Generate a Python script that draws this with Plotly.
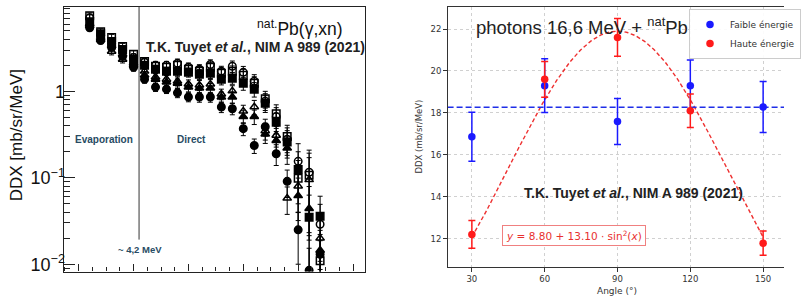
import numpy as np
import plotly.graph_objects as go

# ---------------- Left panel: natPb(γ,xn) DDX vs neutron energy ----------------
energy_mev = [2.4, 2.8, 3.2, 3.6, 4.0, 4.4, 4.8, 5.2, 5.6, 6.0, 6.4,
              6.8, 7.2, 7.6, 8.0, 8.4, 8.8, 9.2, 9.6, 10.0, 10.4, 10.8]
ddx_open_circle = [7.10, 4.41, 3.57, 2.90, 2.47, 2.17, 2.00, 2.00, 2.11, 1.90, 1.80,
                   2.05, 1.71, 1.95, 1.66, 1.31, 0.77, 0.51, 0.28, 0.155, 0.116, 0.029]
ddx_open_square = [7.48, 4.90, 4.19, 3.30, 2.68, 2.22, 1.95, 1.90, 2.00, 1.80, 1.71,
                   1.90, 1.62, 1.71, 1.54, 1.24, 0.82, 0.55, 0.30, 0.099, 0.107, 0.011]
ddx_filled_square = [6.39, 4.65, 3.77, 3.05, 2.34, 2.00, 1.80, 1.71, 1.71, 1.66, 1.58,
                     1.62, 1.38, 1.42, 1.24, 1.06, 0.73, 0.44, 0.26, 0.125, 0.035, 0.036]
ddx_open_triangle = [5.75, 3.97, 2.90, 2.34, 2.00, 1.71, 1.46, 1.38, 1.31, 1.21, 1.18,
                     1.21, 0.93, 1.01, 0.59, 0.66, 0.35, 0.31, 0.058, 0.080, 0.095, 0.020]
ddx_filled_triangle = [6.06, 4.19, 3.39, 2.68, 2.11, 1.54, 1.38, 1.28, 1.24, 1.12, 1.09,
                       1.09, 0.86, 0.86, 0.51, 0.51, 0.32, 0.27, 0.22, 0.062, 0.044, 0.0145]
ddx_filled_circle = [5.45, 3.87, 3.22, 2.54, 1.90, 1.38, 1.12, 1.06, 0.96, 0.86, 0.86,
                     0.86, 0.66, 0.63, 0.37, 0.236, 0.39, 0.19, 0.091, 0.025, 0.0085, 0.013]
ddx_rel_err = [0.08, 0.08, 0.09, 0.09, 0.10, 0.10, 0.11, 0.11, 0.12, 0.12, 0.13,
               0.13, 0.14, 0.15, 0.17, 0.19, 0.22, 0.27, 0.35, 0.60, 0.80, 0.70]
threshold_mev = 4.2
left_tickvals = [0.01, 0.1, 1]
left_ticktext = ["10<sup>\u22122</sup>", "10<sup>\u22121</sup>", "1"]

# ---------------- Right panel: DDX vs angle ----------------
angles = [30, 60, 90, 120, 150]
faible = [16.86, 19.30, 17.59, 19.30, 18.28]
faible_err = [1.17, 1.28, 1.10, 1.22, 1.22]
haute = [12.20, 19.60, 21.60, 18.10, 11.78]
haute_err = [0.66, 0.85, 0.90, 0.80, 0.58]
fit_offset = 8.80
fit_amp = 13.10
right_xticks = [30, 60, 90, 120, 150]
right_yticks = [12, 14, 16, 18, 20, 22]

W, H = 801, 302
def px(x):
    return x / W
def py(y):
    return 1 - y / H

fig = go.Figure()

series = [
    (ddx_open_circle, "circle-open"),
    (ddx_open_square, "square-open"),
    (ddx_filled_square, "square"),
    (ddx_open_triangle, "triangle-up-open"),
    (ddx_filled_triangle, "triangle-up"),
    (ddx_filled_circle, "circle"),
]
for vals, sym in series:
    err = [v * r for v, r in zip(vals, ddx_rel_err)]
    fig.add_trace(go.Scatter(
        x=energy_mev, y=vals, mode="markers", xaxis="x", yaxis="y",
        showlegend=False,
        marker=dict(symbol=sym, size=7.5, color="black", line=dict(color="black", width=1.5)),
        error_y=dict(type="data", array=err, color="black", thickness=1, width=2.5),
    ))

# Right panel traces
theta = np.linspace(30, 150, 241)
fit = fit_offset + fit_amp * np.sin(np.radians(theta)) ** 2
fig.add_trace(go.Scatter(
    x=theta, y=fit, mode="lines", xaxis="x2", yaxis="y2", showlegend=False,
    line=dict(color="#ee3030", width=1.4, dash="4px,2.5px"), hoverinfo="skip"))
mean_faible = float(np.mean(faible))
fig.add_trace(go.Scatter(
    x=[20, 158.6], y=[mean_faible, mean_faible], mode="lines", xaxis="x2", yaxis="y2",
    showlegend=False, line=dict(color="#1f2ee8", width=1.5, dash="6px,3px"), hoverinfo="skip"))
fig.add_trace(go.Scatter(
    x=angles, y=faible, mode="markers", xaxis="x2", yaxis="y2", name="Faible énergie",
    marker=dict(color="#1a1aff", size=7.5),
    error_y=dict(type="data", array=faible_err, color="#1a1aff", thickness=1.5, width=3.5)))
fig.add_trace(go.Scatter(
    x=angles, y=haute, mode="markers", xaxis="x2", yaxis="y2", name="Haute énergie",
    marker=dict(color="#ff1a1a", size=7.5),
    error_y=dict(type="data", array=haute_err, color="#ff1a1a", thickness=1.5, width=3.5)))

left_minor_y = [m * 10 ** d for d in (-3, -2, -1, 0) for m in range(2, 10)]

fig.update_layout(
    width=W, height=H, autosize=False,
    margin=dict(l=0, r=0, t=0, b=0),
    paper_bgcolor="white", plot_bgcolor="white",
    font=dict(family="Liberation Sans, Arial, sans-serif", color="#111"),
    xaxis=dict(domain=[px(65), px(373.3)], range=[1.45, 12.45], showgrid=False, zeroline=False,
               showline=True, linecolor="#222", linewidth=1.2, mirror=True,
               ticks="inside", ticklen=7, tickcolor="#222", tickwidth=1,
               tickvals=[2, 4, 6, 8, 10, 12], showticklabels=False,
               minor=dict(tickvals=[1.5 + 0.5 * i for i in range(22)], ticks="inside",
                          ticklen=4, tickcolor="#222")),
    yaxis=dict(domain=[py(274.3), py(6.7)], type="log", range=[-2.085, 0.98],
               showgrid=False, zeroline=False, showline=True, linecolor="#222", linewidth=1.2,
               mirror=True, ticks="inside", ticklen=11, tickcolor="#222", tickwidth=1,
               tickvals=left_tickvals, ticktext=left_ticktext, ticklabelstandoff=-6,
               tickfont=dict(size=18, color="#111"),
               minor=dict(tickvals=left_minor_y, ticks="inside", ticklen=6, tickcolor="#222")),
    xaxis2=dict(domain=[px(457.3), 1.0], range=[20, 158.6], anchor="y2",
                showgrid=True, gridcolor="#d0d0d0", griddash="dot", gridwidth=1,
                zeroline=False, showline=True, linecolor="#333", linewidth=1, mirror=True,
                ticks="outside", ticklen=3.5, tickcolor="#333", tickvals=right_xticks,
                tickfont=dict(family="DejaVu Sans", size=8.5, color="#333")),
    yaxis2=dict(domain=[py(270), py(6.7)], range=[10.63, 23.07], anchor="x2",
                showgrid=True, gridcolor="#d0d0d0", griddash="dot", gridwidth=1,
                zeroline=False, showline=True, linecolor="#333", linewidth=1,
                ticks="outside", ticklen=3.5, tickcolor="#333", tickvals=right_yticks,
                tickfont=dict(family="DejaVu Sans", size=8.5, color="#333")),
    legend=dict(x=px(704), y=py(9), xanchor="left", yanchor="top",
                bgcolor="rgba(255,255,255,0.9)", bordercolor="#cccccc", borderwidth=1,
                font=dict(family="DejaVu Sans", size=9, color="#333"),
                tracegroupgap=0, itemwidth=30),
    showlegend=True,
)

fig.add_shape(type="line", xref="x", yref="y domain", x0=threshold_mev, x1=threshold_mev,
              y0=0.1207, y1=1, line=dict(color="#333", width=1))

teal = "#274b63"
ann = [
    dict(x=px(17), y=py(137), text="DDX [mb/sr/MeV]", textangle=-90,
         font=dict(size=17, color="#111")),
    dict(x=px(352), y=py(28), xanchor="right", text="<sup>nat.</sup>Pb(\u03b3,xn)",
         font=dict(size=17.5, color="#111")),
    dict(x=px(147), y=py(47), xanchor="left",
         text="<b>T.K. Tuyet <i>et al.</i>, NIM A 989 (2021)</b>",
         font=dict(size=14, color="#222")),
    dict(x=px(106), y=py(141), text="<b>Evaporation</b>", font=dict(size=10, color=teal)),
    dict(x=px(196), y=py(141), text="<b>Direct</b>", font=dict(size=10, color=teal)),
    dict(x=px(143), y=py(252), text="<b>~ 4,2 MeV</b>", font=dict(size=9.5, color=teal)),
    dict(x=px(484), y=py(26), xanchor="left", text="photons 16,6 MeV + <sup>nat</sup>Pb",
         font=dict(size=18.5, color="#222")),
    dict(x=px(533), y=py(195), xanchor="left",
         text="<b>T.K. Tuyet <i>et al.</i>, NIM A 989 (2021)</b>",
         font=dict(size=14, color="#222")),
    dict(x=px(513), y=py(238), xanchor="left",
         text="<i>y</i> = 8.80 + 13.10 \u00b7 sin<sup>2</sup>(<i>x</i>)",
         font=dict(family="DejaVu Sans", size=10.5, color="#e8302f"),
         bordercolor="#f08080", borderwidth=1, borderpad=3, bgcolor="white"),
    dict(x=px(630), y=py(294), text="Angle (\u00b0)",
         font=dict(family="DejaVu Sans", size=9, color="#333")),
    dict(x=px(428), y=py(138), text="DDX (mb/sr/MeV)", textangle=-90,
         font=dict(family="DejaVu Sans", size=8.5, color="#333")),
]
for a in ann:
    a.setdefault("xref", "paper")
    a.setdefault("yref", "paper")
    a.setdefault("xanchor", "center")
    a.setdefault("yanchor", "middle")
    a.setdefault("showarrow", False)
    fig.add_annotation(**a)

fig.write_html("out.html", config={"displayModeBar": False},
               post_script="document.body.style.margin='0';document.body.style.overflow='hidden';")
